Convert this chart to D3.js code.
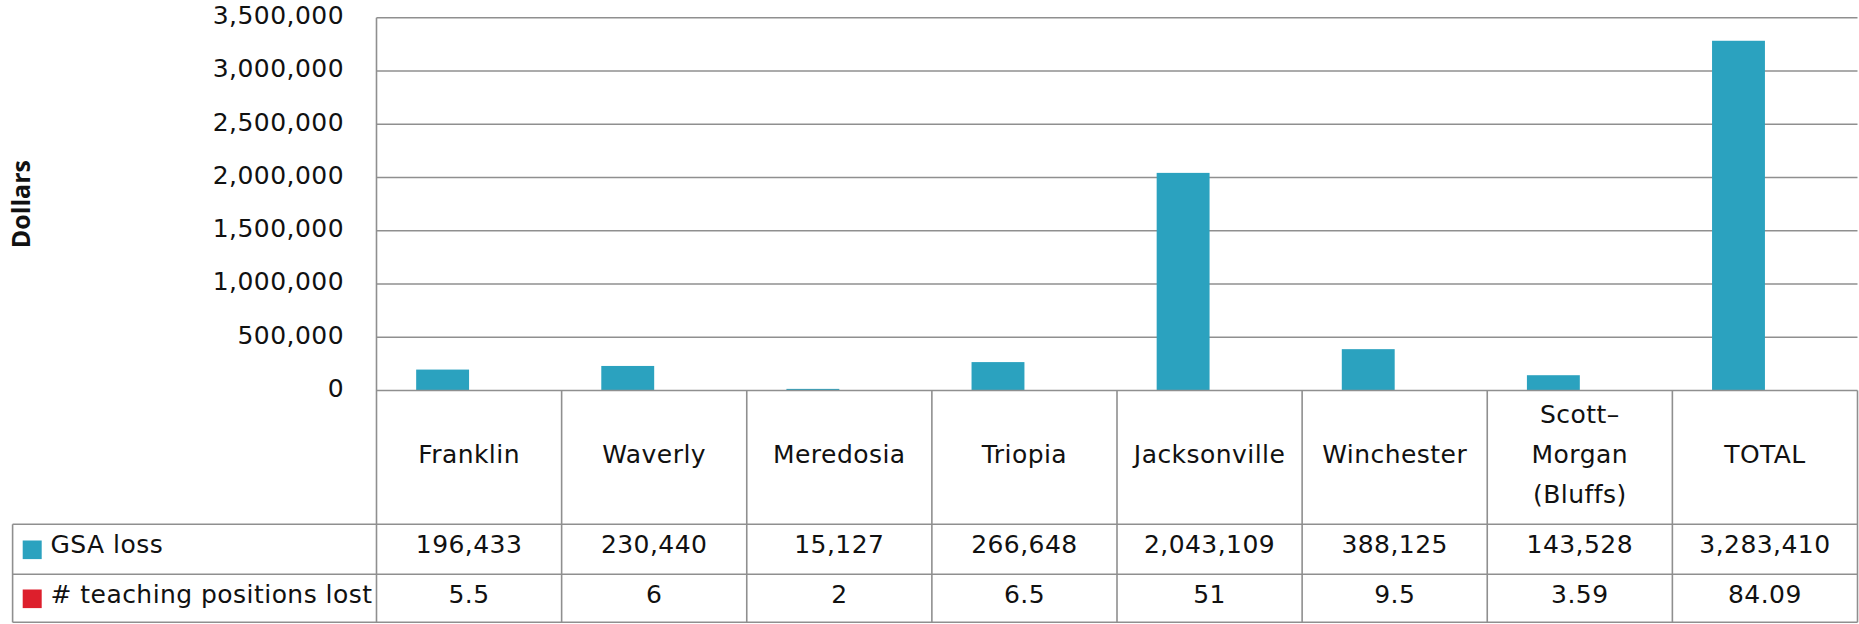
<!DOCTYPE html>
<html>
<head>
<meta charset="utf-8">
<script src="https://cdn.jsdelivr.net/npm/d3@7"></script>
<style>
  html, body { margin: 0; padding: 0; background: #fff; }
  svg { display: block; }
  text { font-family: "DejaVu Sans", Verdana, sans-serif; fill: #111; letter-spacing: 0.45px; }
</style>
</head>
<body>
<svg id="chart" width="1859" height="624"></svg>
<script>
// District losses: GSA dollars and teaching positions
const categories = ["Franklin", "Waverly", "Meredosia", "Triopia", "Jacksonville", "Winchester", "Scott\u2013Morgan (Bluffs)", "TOTAL"];
const seriesNames = ["GSA loss", "# teaching positions lost"];
const gsaLoss = [196433, 230440, 15127, 266648, 2043109, 388125, 143528, 3283410];
const positionsLost = [5.5, 6, 2, 6.5, 51, 9.5, 3.59, 84.09];
const positionsLabels = ["5.5", "6", "2", "6.5", "51", "9.5", "3.59", "84.09"];
const yTicks = [0, 500000, 1000000, 1500000, 2000000, 2500000, 3000000, 3500000];
const seriesColors = ["#2ba2bf", "#dd1f2c"];

const svg = d3.select("#chart");

// layout
const plotLeft = 376.5, plotRight = 1857.5;
const plotTop = 17.7, plotBottom = 390.5;
const tableLeft = 12.6;
const rowCatBottom = 524.3, rowGsaBottom = 574.3, rowPosBottom = 622.3;
const gridColor = "#8f8f8f";
const fontSize = 25;

const x = d3.scaleBand().domain(categories).range([plotLeft, plotRight]).paddingInner(0).paddingOuter(0);
const x1 = d3.scaleBand().domain(seriesNames).range([0, x.bandwidth()]).paddingInner(0).paddingOuter(0.75);
const y = d3.scaleLinear().domain([0, 3500000]).range([plotBottom, plotTop]);

const fmt = d3.format(",");

// gridlines
svg.append("g").selectAll("line").data(yTicks.filter(d => d > 0)).join("line")
  .attr("x1", plotLeft).attr("x2", plotRight)
  .attr("y1", d => y(d)).attr("y2", d => y(d))
  .attr("stroke", gridColor).attr("stroke-width", 1.6);

// y axis tick labels
const yAxis = d3.axisLeft(y).tickValues(yTicks).tickFormat(fmt).tickSize(0).tickPadding(0);
const gy = svg.append("g").attr("transform", `translate(344,0)`).call(yAxis);
gy.select(".domain").remove();
gy.selectAll("text")
  .attr("font-family", "DejaVu Sans, Verdana, sans-serif")
  .attr("font-size", fontSize)
  .attr("fill", "#111")
  .attr("dy", "0.24em");

// axis title
svg.append("text")
  .attr("transform", `translate(30,${(plotTop + plotBottom) / 2}) rotate(-90)`)
  .attr("text-anchor", "middle")
  .style("font-family", "'Open Sans', 'Liberation Sans', sans-serif")
  .style("letter-spacing", "0px")
  .attr("font-weight", 700)
  .attr("font-size", 25)
  .text("Dollars");

// bars
const rows = categories.map((c, i) => ({ cat: c, values: [gsaLoss[i], positionsLost[i]] }));
const groups = svg.append("g").selectAll("g").data(rows).join("g")
  .attr("transform", d => `translate(${x(d.cat)},0)`);
groups.selectAll("rect").data(d => d.values.map((v, j) => ({ s: seriesNames[j], v, j }))).join("rect")
  .attr("x", d => x1(d.s))
  .attr("width", x1.bandwidth())
  .attr("y", d => y(d.v))
  .attr("height", d => y(0) - y(d.v))
  .attr("fill", d => seriesColors[d.j]);

// data table grid
const tbl = svg.append("g").attr("stroke", gridColor).attr("stroke-width", 1.6);
tbl.append("line").attr("x1", plotLeft).attr("x2", plotRight).attr("y1", plotBottom).attr("y2", plotBottom);
[rowCatBottom, rowGsaBottom, rowPosBottom].forEach(yy => {
  tbl.append("line").attr("x1", tableLeft).attr("x2", plotRight).attr("y1", yy).attr("y2", yy);
});
tbl.append("line").attr("x1", tableLeft).attr("x2", tableLeft).attr("y1", rowCatBottom).attr("y2", rowPosBottom);
tbl.append("line").attr("x1", plotLeft).attr("x2", plotLeft).attr("y1", plotTop).attr("y2", rowPosBottom);
categories.forEach(c => {
  const xr = x(c) + x.bandwidth();
  tbl.append("line").attr("x1", xr).attr("x2", xr).attr("y1", plotBottom).attr("y2", rowPosBottom);
});

// category labels, wrapped to the cell width
const lineHeight = 40, midBaseline = 463, maxLabelWidth = 165;
const catText = svg.append("g").selectAll("text").data(categories).join("text")
  .attr("text-anchor", "middle")
  .attr("font-size", fontSize)
  .attr("x", d => x(d) + x.bandwidth() / 2);
catText.each(function (d) {
  const node = d3.select(this);
  const cx = x(d) + x.bandwidth() / 2;
  const tokens = d.split(/(?<=[\u2013-])|\s+/).filter(t => t.length);
  const lines = [];
  let current = "";
  const probe = node.append("tspan");
  tokens.forEach(t => {
    const joiner = current === "" || /[\u2013-]$/.test(current) ? "" : " ";
    const trial = current + joiner + t;
    probe.text(trial);
    if (current !== "" && probe.node().getComputedTextLength() > maxLabelWidth) {
      lines.push(current);
      current = t;
    } else {
      current = trial;
    }
  });
  if (current) lines.push(current);
  probe.remove();
  const first = midBaseline - (lines.length - 1) / 2 * lineHeight;
  lines.forEach((l, k) => {
    node.append("tspan").attr("x", cx).attr("y", first + k * lineHeight).text(l);
  });
});

// value rows
svg.append("g").selectAll("text").data(gsaLoss).join("text")
  .attr("text-anchor", "middle").attr("font-size", fontSize)
  .attr("x", (d, i) => x(categories[i]) + x.bandwidth() / 2)
  .attr("y", 553)
  .text(d => fmt(d));
svg.append("g").selectAll("text").data(positionsLabels).join("text")
  .attr("text-anchor", "middle").attr("font-size", fontSize)
  .attr("x", (d, i) => x(categories[i]) + x.bandwidth() / 2)
  .attr("y", 602.7)
  .text(d => d);

// legend keys in the table's first column
const legendRows = [{ y0: rowCatBottom, y1: rowGsaBottom, base: 553 }, { y0: rowGsaBottom, y1: rowPosBottom, base: 602.7 }];
seriesNames.forEach((name, i) => {
  const r = legendRows[i];
  const mid = (r.y0 + r.y1) / 2;
  svg.append("rect").attr("x", 22.7).attr("y", mid - 9.3 + 0.5).attr("width", 19).attr("height", 18.6).attr("fill", seriesColors[i]);
  svg.append("text").attr("x", 50.5).attr("y", r.base).attr("font-size", fontSize).text(name);
});
</script>
</body>
</html>
